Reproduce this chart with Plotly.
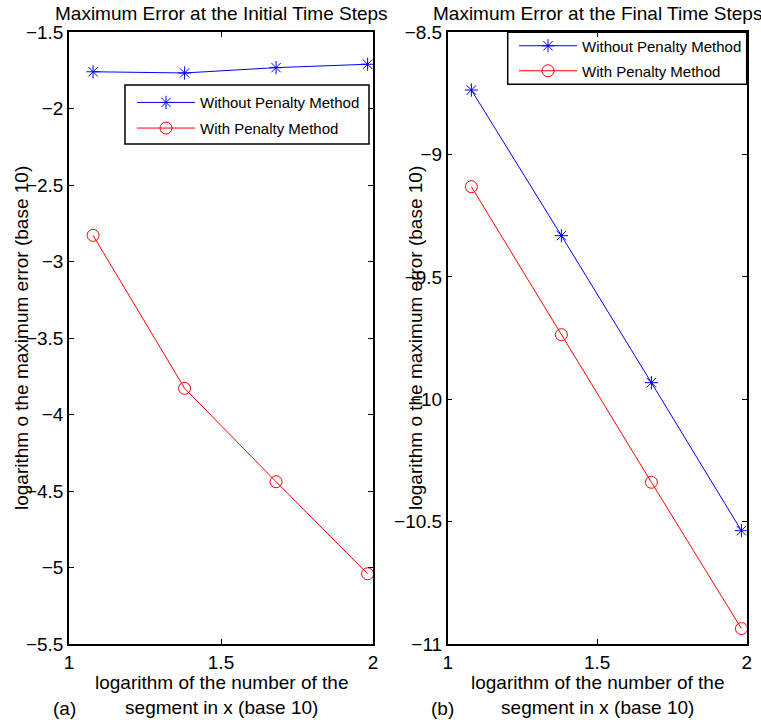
import plotly.graph_objects as go

# ---- data ----
x_vals = [1.0792, 1.3802, 1.6812, 1.9823]          # log10 of 12, 24, 48, 96 segments
init_without = [-1.758, -1.766, -1.731, -1.709]
init_with = [-2.828, -3.828, -4.439, -5.041]
final_without = [-8.736, -9.331, -9.932, -10.537]
final_with = [-9.131, -9.736, -10.339, -10.937]

name_without = "Without Penalty Method"
name_with = "With Penalty Method"
title_a = "Maximum Error at the Initial Time Steps"
title_b = "Maximum Error at the Final Time Steps"
xlabel = "logarithm of the number of the<br>segment in x (base 10)"
ylabel = "logarithm o the maximum error (base 10)"

FONT = "Liberation Sans, Arial, Helvetica, sans-serif"
W, H = 761, 720
BLUE = "rgb(0,0,255)"
RED = "rgb(255,0,0)"
FS = 19


def px(x):
    return x / W


def py(y):
    return 1 - y / H


fig = go.Figure()

star = dict(symbol="asterisk-open", size=11, color=BLUE, line=dict(color=BLUE, width=1))
circ = dict(symbol="circle-open", size=12, color=RED, line=dict(color=RED, width=1))

fig.add_trace(go.Scatter(x=x_vals, y=init_without, mode="lines+markers", name=name_without,
                         line=dict(color=BLUE, width=1), marker=star, showlegend=True,
                         xaxis="x", yaxis="y", legend="legend"))
fig.add_trace(go.Scatter(x=x_vals, y=init_with, mode="lines+markers", name=name_with,
                         line=dict(color=RED, width=1), marker=circ, showlegend=True,
                         xaxis="x", yaxis="y", legend="legend2"))
fig.add_trace(go.Scatter(x=x_vals, y=final_without, mode="lines+markers", name=name_without,
                         line=dict(color=BLUE, width=1), marker=star, showlegend=True,
                         xaxis="x2", yaxis="y2", legend="legend3"))
fig.add_trace(go.Scatter(x=x_vals, y=final_with, mode="lines+markers", name=name_with,
                         line=dict(color=RED, width=1), marker=circ, showlegend=True,
                         xaxis="x2", yaxis="y2", legend="legend4"))

ax_common = dict(showline=True, linecolor="black", linewidth=1.5, mirror="ticks",
                 ticks="inside", ticklen=5, tickwidth=1, tickcolor="black",
                 showgrid=False, zeroline=False, automargin=False,
                 tickfont=dict(family=FONT, size=FS, color="black"))

left_dom = [px(69), px(373)]
right_dom = [px(447.7), px(746.7)]
y_dom = [py(644), py(32.3)]

fig.update_layout(
    width=W, height=H, autosize=False, showlegend=True,
    margin=dict(l=0, r=0, t=0, b=0, autoexpand=False),
    paper_bgcolor="white", plot_bgcolor="white",
    font=dict(family=FONT, size=FS, color="black"),
    xaxis=dict(domain=left_dom, range=[1, 2], tick0=1, dtick=0.5, anchor="y", **ax_common),
    yaxis=dict(domain=y_dom, range=[-5.5, -1.5], tick0=-1.5, dtick=0.5, anchor="x", **ax_common),
    xaxis2=dict(domain=right_dom, range=[1, 2], tick0=1, dtick=0.5, anchor="y2", **ax_common),
    yaxis2=dict(domain=y_dom, range=[-11, -8.5], tick0=-8.5, dtick=0.5, anchor="x2", **ax_common),
)

leg_common = dict(bgcolor="rgba(0,0,0,0)", borderwidth=0, itemwidth=58, visible=True,
                  font=dict(family=FONT, size=15, color="black"),
                  xanchor="left", yanchor="middle", itemclick=False, itemdoubleclick=False)
fig.update_layout(
    legend=dict(x=px(132), y=py(102.7), **leg_common),
    legend2=dict(x=px(132), y=py(128.3), **leg_common),
    legend3=dict(x=px(514), y=py(46), **leg_common),
    legend4=dict(x=px(514), y=py(71), **leg_common),
)

# legend boxes
fig.add_shape(type="rect", xref="paper", yref="paper",
              x0=px(125), x1=px(369), y0=py(144), y1=py(85),
              line=dict(color="black", width=1.5), fillcolor="white", layer="below")
fig.add_shape(type="rect", xref="paper", yref="paper",
              x0=px(507.7), x1=px(746.7), y0=py(84.3), y1=py(32.3),
              line=dict(color="black", width=1.5), fillcolor="white", layer="below")

ann = []
ann.append(dict(text=title_a, x=px(221), y=py(13), xref="paper", yref="paper",
                showarrow=False, xanchor="center", yanchor="middle", font=dict(size=FS)))
ann.append(dict(text=title_b, x=px(597.2), y=py(13), xref="paper", yref="paper",
                showarrow=False, xanchor="center", yanchor="middle", font=dict(size=FS)))
for cx in (221, 597.2):
    ann.append(dict(text=xlabel, x=px(cx), y=py(695), xref="paper", yref="paper",
                    showarrow=False, xanchor="center", yanchor="middle", font=dict(size=FS)))
for cx in (21, 415):
    ann.append(dict(text=ylabel, x=px(cx), y=py(338), xref="paper", yref="paper",
                    showarrow=False, xanchor="center", yanchor="middle", textangle=-90,
                    font=dict(size=FS)))
ann.append(dict(text="(a)", x=px(64), y=py(708), xref="paper", yref="paper",
                showarrow=False, xanchor="center", yanchor="middle", font=dict(size=FS)))
ann.append(dict(text="(b)", x=px(442), y=py(708), xref="paper", yref="paper",
                showarrow=False, xanchor="center", yanchor="middle", font=dict(size=FS)))
fig.update_layout(annotations=ann)

fig.write_html("out.html",
               config={"displayModeBar": False},
               post_script="document.body.style.margin='0';document.body.style.overflow='hidden';")
